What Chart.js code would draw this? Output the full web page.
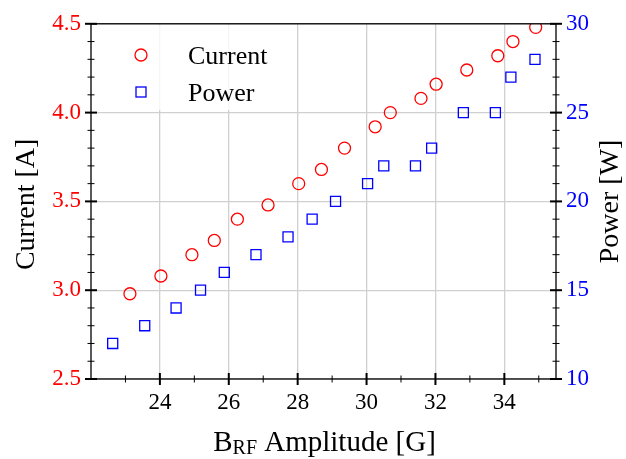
<!DOCTYPE html>
<html>
<head>
<meta charset="utf-8">
<script src="https://cdn.jsdelivr.net/npm/chart.js@4.4.1/dist/chart.umd.min.js"></script>
<style>
  html, body { margin: 0; padding: 0; background: #fff; }
  #wrap { width: 626px; height: 459px; }
</style>
</head>
<body>
<div id="wrap"><canvas id="rfChart" width="626" height="459"></canvas></div>
<script>
// values
const currentField = [23.13, 24.03, 24.93, 25.58, 26.25, 27.14, 28.03, 28.69, 29.36, 30.25, 30.69, 31.58, 32.02, 32.91, 33.81, 34.25, 34.91];
const currentAmps = [2.98, 3.08, 3.20, 3.28, 3.40, 3.48, 3.60, 3.68, 3.80, 3.92, 4.00, 4.08, 4.16, 4.24, 4.32, 4.40, 4.48];
const powerField = [22.63, 23.56, 24.47, 25.18, 25.87, 26.79, 27.72, 28.42, 29.10, 30.03, 30.50, 31.42, 31.89, 32.81, 33.74, 34.19, 34.89];
const powerWatts = [12, 13, 14, 15, 16, 17, 18, 19, 20, 21, 22, 22, 23, 25, 25, 27, 28];

const xTicks = [24, 26, 28, 30, 32, 34];
const currentTicks = [2.5, 3.0, 3.5, 4.0, 4.5];
const powerTicks = [10, 15, 20, 25, 30];

const SERIF = "'Liberation Serif', 'DejaVu Serif', serif";
const RED = '#ff0000';
const BLUE = '#0000ff';

function toPoints(xs, ys) {
  return xs.map((x, i) => ({ x: x, y: ys[i] }));
}

function fixTicks(values) {
  return (scale) => { scale.ticks = values.map(v => ({ value: v })); };
}

// inout ticks, frame, titles and the in-plot legend
const decorPlugin = {
  id: 'decor',
  afterDatasetsDraw(chart) {
    const ctx = chart.ctx;

    // legend box
    ctx.save();
    ctx.fillStyle = 'rgba(255,255,255,0.8)';
    ctx.fillRect(98, 25, 184, 85);
    ctx.strokeStyle = RED;
    ctx.lineWidth = 1.3;
    ctx.beginPath();
    ctx.arc(141, 55, 6, 0, Math.PI * 2);
    ctx.stroke();
    ctx.strokeStyle = BLUE;
    ctx.strokeRect(136, 87, 10, 10);
    ctx.fillStyle = '#000';
    ctx.font = '26px ' + SERIF;
    ctx.textBaseline = 'alphabetic';
    ctx.textAlign = 'left';
    ctx.fillText('Current', 188, 64);
    ctx.fillText('Power', 188, 101);
    ctx.restore();
  },
  afterDraw(chart) {
    const ctx = chart.ctx;
    const a = chart.chartArea;
    const { x, y, y2 } = chart.scales;
    ctx.save();

    // frame
    ctx.strokeStyle = '#000';
    ctx.lineWidth = 1.3;
    ctx.strokeRect(a.left, a.top, a.right - a.left, a.bottom - a.top);

    function hTick(px, py, half, w) {
      ctx.lineWidth = w;
      ctx.beginPath();
      ctx.moveTo(px - half, py);
      ctx.lineTo(px + half, py);
      ctx.stroke();
    }
    function vTick(px, py, half, w) {
      ctx.lineWidth = w;
      ctx.beginPath();
      ctx.moveTo(px, py - half);
      ctx.lineTo(px, py + half);
      ctx.stroke();
    }

    // x ticks
    for (let v = 23; v <= 35; v += 1) {
      const major = xTicks.includes(v);
      vTick(x.getPixelForValue(v), a.bottom, major ? 6 : 3.5, major ? 2 : 1);
    }
    // left ticks
    for (let i = 25; i <= 45; i++) {
      const v = i / 10;
      const major = i % 5 === 0;
      hTick(a.left, y.getPixelForValue(v), major ? 6 : 3.5, major ? 2 : 1);
    }
    // right ticks
    for (let v = 10; v <= 30; v++) {
      const major = v % 5 === 0;
      hTick(a.right, y2.getPixelForValue(v), major ? 6 : 3.5, major ? 2 : 1);
    }

    // axis titles
    ctx.fillStyle = '#000';
    ctx.font = '28px ' + SERIF;
    ctx.textAlign = 'center';
    ctx.textBaseline = 'middle';
    ctx.save();
    ctx.translate(27, (a.top + a.bottom) / 2 + 3);
    ctx.rotate(-Math.PI / 2);
    ctx.fillText('Current [A]', 0, 0);
    ctx.restore();
    ctx.save();
    ctx.translate(611, (a.top + a.bottom) / 2);
    ctx.rotate(-Math.PI / 2);
    ctx.fillText('Power [W]', 0, 0);
    ctx.restore();

    // x title with subscript
    ctx.textAlign = 'left';
    ctx.textBaseline = 'alphabetic';
    const big = '29px ' + SERIF;
    const small = '20px ' + SERIF;
    ctx.font = big;
    const wB = ctx.measureText('B').width;
    const wRest = ctx.measureText(' Amplitude [G]').width;
    ctx.font = small;
    const wSub = ctx.measureText('RF').width;
    const total = wB + wSub + wRest;
    let cx = (a.left + a.right) / 2 + 1 - total / 2;
    const base = 451;
    ctx.font = big;
    ctx.fillText('B', cx, base);
    cx += wB;
    ctx.font = small;
    ctx.fillText('RF', cx, base + 3);
    cx += wSub;
    ctx.font = big;
    ctx.fillText(' Amplitude [G]', cx, base);

    ctx.restore();
  }
};

const ctx = document.getElementById('rfChart').getContext('2d');
new Chart(ctx, {
  type: 'scatter',
  data: {
    datasets: [
      {
        label: 'Current',
        data: toPoints(currentField, currentAmps),
        yAxisID: 'y',
        pointStyle: 'circle',
        pointRadius: 6,
        pointBorderWidth: 1.3,
        borderColor: RED,
        backgroundColor: 'rgba(0,0,0,0)',
      },
      {
        label: 'Power',
        data: toPoints(powerField, powerWatts),
        yAxisID: 'y2',
        pointStyle: 'rect',
        pointRadius: 7.1,
        pointBorderWidth: 1.3,
        borderColor: BLUE,
        backgroundColor: 'rgba(0,0,0,0)',
      },
    ],
  },
  options: {
    responsive: false,
    animation: false,
    devicePixelRatio: 1,
    layout: { padding: { top: 21, left: 0, right: 0, bottom: 0 } },
    plugins: {
      legend: { display: false },
      tooltip: { enabled: false },
    },
    scales: {
      x: {
        type: 'linear',
        min: 22.0,
        max: 35.5,
        afterBuildTicks: fixTicks(xTicks),
        afterFit: (s) => { s.height = 80; },
        grid: { color: '#d0d0d0', lineWidth: 1.3, drawTicks: false },
        border: { display: false },
        ticks: { color: '#000', padding: 10, font: { family: SERIF, size: 23 }, maxRotation: 0 },
      },
      y: {
        type: 'linear',
        position: 'left',
        min: 2.5,
        max: 4.5,
        afterBuildTicks: fixTicks(currentTicks),
        afterFit: (s) => { s.width = 91; },
        grid: { color: '#d0d0d0', lineWidth: 1.3, drawTicks: false },
        border: { display: false },
        ticks: { color: RED, padding: 10, font: { family: SERIF, size: 23 }, callback: (v) => v.toFixed(1) },
      },
      y2: {
        type: 'linear',
        position: 'right',
        min: 10,
        max: 30,
        afterBuildTicks: fixTicks(powerTicks),
        afterFit: (s) => { s.width = 70; },
        grid: { display: false, drawTicks: false },
        border: { display: false },
        ticks: { color: BLUE, padding: 10, font: { family: SERIF, size: 23 } },
      },
    },
  },
  plugins: [decorPlugin],
});
</script>
</body>
</html>
